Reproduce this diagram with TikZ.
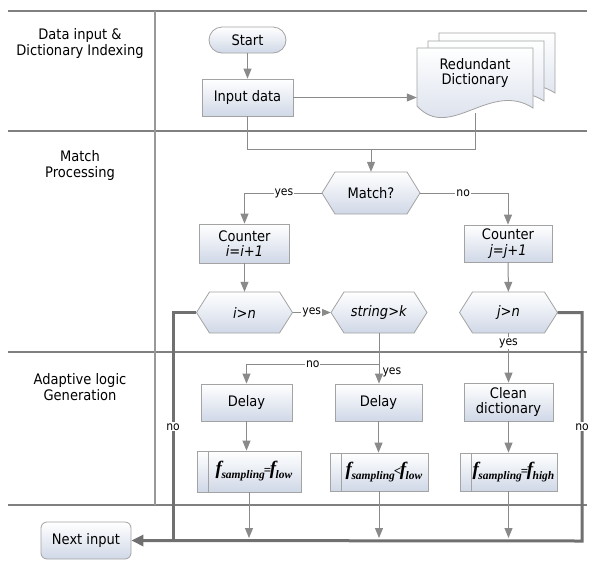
\documentclass[tikz,border=0pt]{standalone}
\usepackage{fontspec}
\setmainfont{DejaVu Sans}[FakeStretch=0.9]
\newfontfamily\serifb{Liberation Serif}
\usetikzlibrary{arrows.meta,calc}

\definecolor{lanegray}{HTML}{808080}
\definecolor{boxline}{HTML}{A3A3A3}
\definecolor{boxfill}{HTML}{D0D8E7}
\definecolor{linegray}{HTML}{8A8A8A}
\definecolor{darkline}{HTML}{707070}

% italic bold frequency symbol with subscript
\newcommand\fvar[1]{{\serifb\bfseries\itshape\fontsize{19}{19}\selectfont f}\kern-0.5pt\raisebox{-4pt}{\serifb\bfseries\itshape\fontsize{11.5}{11.5}\selectfont #1}}
\newcommand\frel[1]{{\serifb\bfseries\fontsize{13}{13}\selectfont\kern-1pt #1\kern-1.5pt}}

% hexagonal decision: name, x, y, width, height, text
\newcommand\hexat[6]{%
  \draw[hexfill] (#2-#4/2,#3) -- (#2-#4/2+13,#3-#5/2) -- (#2+#4/2-13,#3-#5/2)
    -- (#2+#4/2,#3) -- (#2+#4/2-13,#3+#5/2) -- (#2-#4/2+13,#3+#5/2) -- cycle;
  \node[base, minimum width=#4, minimum height=#5] (#1) at (#2,#3) {#6};
}

% one sheet of the stacked document symbol
\newcommand\docsheet[2]{%
  \draw[hexfill, shift={(#1,#2)}] (417,106) -- (417,48) -- (533,48) -- (533,108)
    .. controls (490,80) and (450,142) .. (417,106) -- cycle;
}

\begin{document}
\begin{tikzpicture}[x=1pt,y=-1pt,
  base/.style={font=\fontsize{14.5}{15.5}\selectfont, align=center, inner sep=0pt},
  procbox/.style={base, rectangle, draw=boxline, line width=0.8pt, top color=white, bottom color=boxfill},
  termbox/.style={procbox, rounded corners=13pt},
  roundbox/.style={procbox, rounded corners=6pt},
  hexfill/.style={draw=boxline, line width=0.8pt, top color=white, bottom color=boxfill},
  conn/.style={draw=linegray, line width=1pt},
  arr/.style={conn, -{Triangle[length=10pt,width=8pt]}},
  thk/.style={draw=darkline, line width=3pt},
  lbl/.style={font=\fontsize{12}{12}\selectfont, fill=white, inner sep=1pt},
  lane/.style={draw=lanegray, line width=2pt},
  lanetitle/.style={font=\fontsize{14.5}{16}\selectfont, align=center, inner sep=0pt},
]
\useasboundingbox[fill=white] (0,0) rectangle (592,571);

% swimlanes
\draw[lane] (8,10.5) -- (587,10.5);
\draw[lane] (8,131) -- (587,131);
\draw[lane] (8,352) -- (587,352);
\draw[draw=lanegray, line width=1.2pt] (8,505) -- (587,505);
\draw[draw=lanegray!80, line width=1.5pt] (155,10.5) -- (155,505);

\node[lanetitle] (lane1) at (80,43.5) {Data input \&\\Dictionary Indexing};
\node[lanetitle] (lane2) at (80,165) {Match\\Processing};
\node[lanetitle] (lane3) at (80,387.5) {Adaptive logic\\Generation};

% data input
\node[termbox, minimum width=77, minimum height=26] (start) at (247.5,40) {Start};
\node[procbox, minimum width=91, minimum height=37] (inp) at (247.5,97.5) {Input data};

% redundant dictionary (stacked documents)
\docsheet{22}{-15}
\docsheet{11}{-7}
\docsheet{0}{0}
\node[inner sep=0pt, minimum width=116, minimum height=65] (dict) at (475,80.5) {};
\node[base] (dicttext) at (475,73) {Redundant\\Dictionary};

% match processing
\coordinate (mjoin) at (371,149);
\hexat{match}{371}{193}{98}{42}{Match?}
\node[procbox, minimum width=90, minimum height=39] (cti) at (244.5,243.5) {Counter\\\textit{i=i+1}};
\node[procbox, minimum width=88, minimum height=37] (ctj) at (508,243.5) {Counter\\\textit{j=j+1}};
\hexat{ihex}{244.5}{312.5}{96}{41}{\textit{i>n}}
\hexat{shex}{379}{312.5}{96}{41}{\textit{string>k}}
\hexat{jhex}{508.5}{312.5}{98}{41}{\textit{j>n}}

% adaptive logic
\node[procbox, minimum width=91, minimum height=37] (dl1) at (246.5,402.5) {Delay};
\node[procbox, minimum width=87, minimum height=37] (dl2) at (378.5,402.5) {Delay};
\node[procbox, minimum width=89, minimum height=38] (cln) at (508.5,402) {Clean\\dictionary};

\node[procbox, minimum width=104, minimum height=41] (f1) at (249,471.5)
  {\hspace*{10pt}\fvar{sampling}\frel{=}\fvar{low}};
\node[procbox, minimum width=98, minimum height=38] (f2) at (379,472)
  {\hspace*{10pt}\fvar{sampling}\frel{<}\fvar{low}};
\node[procbox, minimum width=97, minimum height=38] (f3) at (508.5,472)
  {\hspace*{10pt}\fvar{sampling}\frel{=}\fvar{high}};
\foreach \b in {f1,f2,f3}
  \draw[draw=boxline, line width=0.8pt] ([xshift=12]\b.north west) -- ([xshift=12]\b.south west);

\node[roundbox, minimum width=90, minimum height=37] (nxt) at (86,540.5) {Next input};

% connectors
\draw[arr] (start) -- (inp);
\draw[arr] (inp.east) -- (inp.east -| dict.west);
\draw[conn] (inp.south) |- (mjoin);
\draw[conn] (dict.south) |- (mjoin);
\draw[arr] (mjoin) -- (match.north);

\draw[arr] (match.west) -| node[lbl, pos=0.245] {yes} (cti.north);
\draw[arr] (match.east) -| node[lbl, pos=0.245] {no} (ctj.north);
\draw[arr] (cti) -- (ihex);
\draw[arr] (ctj) -- (jhex);
\draw[arr] (ihex.east) -- node[lbl] {yes} (shex.west);

\coordinate (sno) at (379,364);
\draw[arr] (shex.south) -- node[pos=0.78, right, font=\fontsize{12}{12}\selectfont, inner sep=3pt] {yes} (shex.south |- dl2.north);
\draw[arr] (sno) -| node[lbl, pos=0.25] {no} (dl1.north);
\draw[arr] (jhex.south) -- node[lbl, pos=0.2] {yes} (jhex.south |- cln.north);

\draw[arr] (dl1.south) -- (dl1.south |- f1.north);
\draw[arr] (dl2.south) -- (dl2.south |- f2.north);
\draw[arr] (cln.south) -- (cln.south |- f3.north);

\coordinate (tipline) at (300,538);
\draw[arr] (f1.south) -- (f1.south |- tipline);
\draw[arr] (f2.south) -- (f2.south |- tipline);
\draw[arr] (f3.south) -- (f3.south |- tipline);

% "no" returns to the next input
\coordinate (ljoin) at (173,541);
\coordinate (rjoin) at (582,541);
\draw[thk] (ihex.west) -| node[lbl, pos=0.75] {no} (ljoin);
\draw[thk, -{Triangle[length=12pt,width=11pt]}] (jhex.east) -| node[lbl, pos=0.75] {no} (rjoin) -- (nxt.east);
\end{tikzpicture}
\end{document}
